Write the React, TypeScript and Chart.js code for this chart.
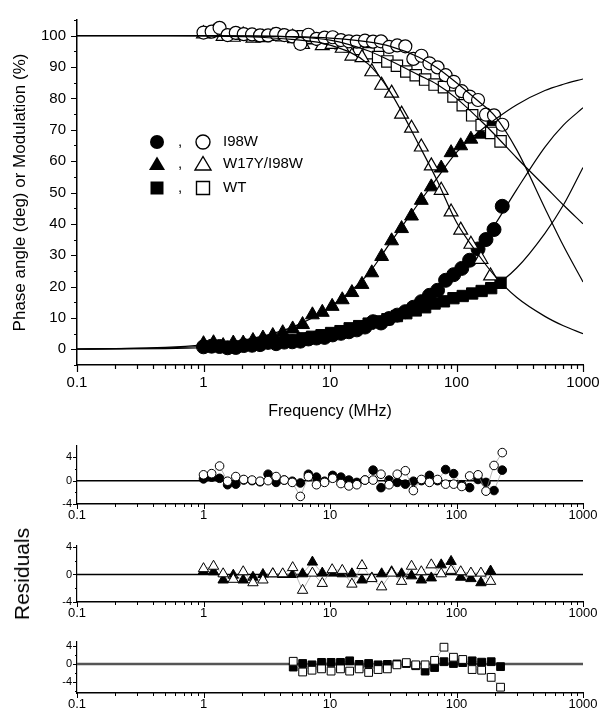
import React, { useEffect, useRef } from "react";
import { Chart, registerables } from "chart.js";
Chart.register(...registerables);

const FONT = "'Liberation Sans', Arial, Helvetica, sans-serif";

// ---------- tick labels ----------
const xMajor = [0.1, 1, 10, 100, 1000];
const xTickLabels = ["0.1", "1", "10", "100", "1000"];
const mainYMajor = [0, 10, 20, 30, 40, 50, 60, 70, 80, 90, 100];
const mainYMinor = [-5, 5, 15, 25, 35, 45, 55, 65, 75, 85, 95, 105];
const resYMajor = [-4, 0, 4];
const resYLabels = ["-4", "0", "4"];

// ---------- legend ----------
const legendNames = ["I98W", "W17Y/I98W", "WT"];
const legendShapes = ["circle", "triangle", "rect"];
const residualsTitle = "Residuals";

// ---------- I98W (circles) ----------
const i98wFreq = [1.0, 1.16, 1.34, 1.55, 1.8, 2.08, 2.42, 2.8, 3.24, 3.75, 4.35, 5.03, 5.83, 6.75, 7.82, 9.06, 10.5, 12.2, 14.1, 16.3, 18.9, 21.9, 25.3, 29.3, 34.0, 39.4, 45.6, 52.8, 61.1, 70.8, 82.0, 95.0, 110, 127, 148, 171, 198, 230];
const i98wPhase = [0.8, 1.0, 0.9, 0.5, 0.6, 1.2, 1.3, 1.5, 2.2, 1.8, 2.3, 2.4, 2.6, 3.3, 3.6, 3.8, 4.6, 5.1, 5.6, 6.2, 7.1, 8.8, 8.4, 9.8, 10.9, 12.0, 13.4, 15.2, 17.2, 18.8, 22.0, 23.8, 25.8, 28.4, 32.0, 35.0, 38.2, 45.6];
const i98wMod = [101, 101.3, 102.5, 100.2, 100.9, 100.5, 100.4, 100.1, 100.1, 100.6, 100.2, 99.8, 97.4, 100.3, 99.0, 99.4, 99.5, 98.6, 98.2, 98.1, 98.4, 98.1, 98.2, 96.4, 96.9, 96.6, 92.6, 93.6, 91.2, 89.9, 87.4, 85.3, 82.3, 80.6, 79.5, 74.8, 74.6, 71.6];
const i98wResPhase = [0.3, 0.6, 0.4, -0.7, -0.6, 0.1, 0, -0.2, 1.1, -0.3, 0.1, -0.1, -0.4, 1.1, 0.6, -0.1, 0.9, 0.6, 0.1, -0.3, 0.1, 1.8, -1.2, 0.1, -0.3, -0.6, -0.1, 0, 0.9, 0, 1.9, 1.2, -0.7, -1.2, 0.2, -0.3, -1.7, 1.8];
const i98wResMod = [1.0, 1.2, 2.5, -0.1, 0.7, 0.2, 0.1, -0.1, 0, 0.7, 0.1, -0.3, -2.7, 0.7, -0.7, -0.3, 0.4, -0.5, -0.9, -0.7, 0.1, 0.1, 1.1, -0.7, 1.1, 1.7, -1.7, 0.2, -0.3, 0.2, -0.6, -0.6, -1.0, 0.8, 1.0, -1.8, 2.6, 4.8];

// ---------- W17Y/I98W (triangles) ----------
const w17Freq = [1.0, 1.2, 1.43, 1.72, 2.06, 2.46, 2.95, 3.53, 4.23, 5.07, 6.07, 7.26, 8.69, 10.4, 12.5, 14.9, 17.9, 21.4, 25.6, 30.7, 36.8, 44.1, 52.7, 63.2, 75.7, 90.6, 108, 130, 156, 186];
const w17Phase = [1.8, 2.1, 1.2, 2.0, 2.0, 2.8, 3.6, 4.4, 5.3, 6.5, 7.9, 11.0, 11.8, 13.7, 15.8, 18.1, 20.7, 24.4, 29.6, 34.6, 38.5, 42.5, 47.5, 51.8, 57.8, 62.7, 64.9, 67.0, 68.6, 72.6];
const w17Mod = [100.6, 101, 99.8, 99.5, 100.2, 99.2, 99.4, 99.8, 99.6, 99.5, 97.2, 98.8, 96.8, 97.2, 96.0, 93.5, 93.0, 88.5, 84.2, 81.7, 75.0, 70.5, 64.5, 58.5, 50.7, 43.8, 38.0, 33.5, 28.7, 23.4];
const w17ResPhase = [0.5, 0.4, -0.8, -0.1, -0.8, -0.4, 0, 0.1, 0, 0, 0.1, 1.8, 0.2, 0.2, 0.1, 0.1, -0.8, -0.5, 0.1, 0.4, 0.1, -0.2, -0.8, -0.5, 1.4, 1.9, -0.4, -0.6, -1.2, 0.5];
const w17ResMod = [0.85, 1.2, 0.1, -0.7, 0.4, -1.2, -0.8, 0.1, 0.1, 1.0, -2.3, 0.2, -1.3, 0.7, 0.6, -1.4, 1.3, -0.6, -1.8, 0.2, -1.0, 1.2, 0.4, 1.4, 0.1, 0.6, 0.4, 0.2, 0.2, -1.0];

// ---------- WT (squares) ----------
const wtFreq = [5.12, 6.08, 7.21, 8.57, 10.2, 12.1, 14.3, 17.0, 20.2, 24.0, 28.4, 33.8, 40.1, 47.6, 56.5, 67.1, 79.6, 94.6, 112, 133, 158, 188, 223];
const wtPhase = [3.0, 3.5, 4.0, 4.5, 5.2, 5.8, 6.7, 7.4, 8.2, 8.9, 9.6, 10.6, 11.5, 12.4, 13.4, 14.6, 15.3, 16.3, 17.0, 17.8, 18.6, 19.5, 21.2];
const wtMod = [99.6, 99.8, 99.2, 98.7, 98.4, 97.6, 96.6, 95.8, 94.4, 93.2, 91.8, 90.4, 88.6, 87.4, 86.0, 84.4, 83.6, 80.6, 77.8, 74.6, 71.5, 69.0, 66.3];
const wtResPhase = [-0.7, 0.1, -0.2, 0.35, 0.35, 0.35, 0.7, -0.1, 0.1, -0.2, -0.1, 0, 0.1, -0.4, -1.6, -0.8, 0.5, 0.1, 0.3, 0.7, 0.4, 0.5, -0.6];
const wtResMod = [0.6, -1.8, -1.4, -1.1, -1.6, -1.1, -1.6, -1.1, -1.9, -1.25, -1.1, -0.2, 0.3, -0.2, -0.2, 0.8, 3.75, 1.5, 1.0, -1.25, -1.4, -3.0, -5.2];

// ---------- fitted curves ----------
const fitFreq = [0.1, 0.2, 0.5, 1, 2, 5, 10, 20, 30, 50, 70, 100, 150, 200, 300, 500, 700, 1000];
const fitI98WPhase = [0.05, 0.1, 0.25, 0.5, 1.0, 2.3, 4.3, 7.8, 10.4, 15.0, 19.0, 24.3, 32.3, 39.6, 51.0, 64.5, 71.5, 77.0];
const fitI98WMod = [100, 100, 100, 100, 99.95, 99.7, 99.2, 98.0, 96.6, 93.2, 89.8, 85.0, 79.0, 74.5, 63.5, 45.0, 33.0, 21.5];
const fitW17Phase = [0.1, 0.2, 0.6, 1.4, 2.8, 7.0, 13.5, 24.0, 34.0, 46.5, 54.5, 62.8, 69.3, 73.2, 78.0, 82.5, 84.5, 86.2];
const fitW17Mod = [100, 100, 100, 99.9, 99.7, 98.8, 97.0, 91.0, 82.0, 65.5, 54.0, 40.5, 30.0, 23.5, 16.5, 10.5, 7.5, 5.0];
const fitWTPhase = [0.1, 0.2, 0.5, 0.9, 1.6, 3.1, 5.1, 8.1, 10.0, 12.9, 14.7, 16.5, 18.5, 20.3, 26.0, 37.0, 46.0, 58.0];
const fitWTMod = [100, 100, 100, 100, 99.9, 99.6, 98.6, 95.2, 92.0, 87.5, 84.5, 80.0, 73.5, 68.5, 61.0, 52.0, 46.0, 40.0];

const zeroLineX = [0.1, 1000];
const zeroLineY = [0, 0];

// ---------- helpers ----------
const pts = (xs: number[], ys: number[]) => xs.map((x, i) => ({ x, y: ys[i] }));

function minorLogTicks(): number[] {
  const out: number[] = [];
  for (const d of [0.1, 1, 10, 100]) for (let m = 2; m <= 9; m++) out.push(+(d * m).toPrecision(3));
  return out;
}

const ticksPlugin = {
  id: "originTicks",
  afterDraw(chart: any, _args: any, opts: any) {
    const { ctx } = chart;
    const xs = chart.scales.x;
    const ys = chart.scales.y;
    const ca = chart.chartArea;
    ctx.save();
    ctx.strokeStyle = "#000";
    ctx.lineWidth = opts.lw;
    ctx.beginPath();
    const yb = ca.bottom;
    for (const v of xMajor) {
      const p = Math.round(xs.getPixelForValue(v)) + 0.5;
      ctx.moveTo(p, yb);
      ctx.lineTo(p, yb + opts.xMajorLen);
    }
    for (const v of minorLogTicks()) {
      const p = Math.round(xs.getPixelForValue(v)) + 0.5;
      ctx.moveTo(p, yb);
      ctx.lineTo(p, yb + opts.xMinorLen);
    }
    const xl = ca.left;
    for (const v of opts.yMajor) {
      const p = Math.round(ys.getPixelForValue(v)) + 0.5;
      ctx.moveTo(xl, p);
      ctx.lineTo(xl - opts.yMajorLen, p);
    }
    for (const v of opts.yMinor) {
      if (v < ys.min || v > ys.max) continue;
      const p = Math.round(ys.getPixelForValue(v)) + 0.5;
      ctx.moveTo(xl, p);
      ctx.lineTo(xl - opts.yMinorLen, p);
    }
    ctx.stroke();
    ctx.restore();
  },
};

function drawShape(ctx: CanvasRenderingContext2D, shape: string, x: number, y: number, filled: boolean) {
  ctx.beginPath();
  if (shape === "circle") {
    ctx.arc(x, y, 7, 0, Math.PI * 2);
  } else if (shape === "triangle") {
    ctx.moveTo(x, y - 7.5);
    ctx.lineTo(x + 8, y + 6);
    ctx.lineTo(x - 8, y + 6);
    ctx.closePath();
  } else {
    ctx.rect(x - 6.5, y - 6.5, 13, 13);
  }
  if (filled) {
    ctx.fillStyle = "#000";
    ctx.fill();
  } else {
    ctx.fillStyle = "#fff";
    ctx.fill();
    ctx.lineWidth = 1.4;
    ctx.strokeStyle = "#000";
    ctx.stroke();
  }
}

const legendPlugin = {
  id: "symbolLegend",
  afterDraw(chart: any) {
    const ctx: CanvasRenderingContext2D = chart.ctx;
    const rowsY = [142, 164, 188];
    ctx.save();
    legendNames.forEach((name, i) => {
      const y = rowsY[i];
      drawShape(ctx, legendShapes[i], 157, y, true);
      drawShape(ctx, legendShapes[i], 203, y, false);
      ctx.fillStyle = "#000";
      ctx.font = `15px ${FONT}`;
      ctx.textBaseline = "middle";
      ctx.textAlign = "left";
      ctx.fillText(",", 178, y);
      ctx.fillText(name, 223, y);
    });
    ctx.restore();
  },
};

const fitDs = (ys: number[]) => ({
  data: pts(fitFreq, ys),
  showLine: true,
  borderColor: "#000",
  borderWidth: 1.2,
  pointRadius: 0,
  cubicInterpolationMode: "monotone" as const,
  fill: false,
});

const markDs = (xs: number[], ys: number[], style: string, filled: boolean, r: number) => ({
  data: pts(xs, ys),
  showLine: false,
  pointStyle: style,
  pointRadius: r,
  pointBackgroundColor: filled ? "#000" : "#fff",
  pointBorderColor: "#000",
  pointBorderWidth: filled ? 1 : 1.2,
  backgroundColor: filled ? "#000" : "#fff",
  borderColor: "#000",
});

const resDs = (xs: number[], ys: number[], style: string, filled: boolean, r: number) => ({
  data: pts(xs, ys),
  showLine: true,
  borderColor: "#9a9a9a",
  borderWidth: 0.7,
  tension: 0,
  pointStyle: style,
  pointRadius: r,
  pointBackgroundColor: filled ? "#000" : "#fff",
  pointBorderColor: "#000",
  pointBorderWidth: 1,
  backgroundColor: filled ? "#000" : "#fff",
});

function xScale(fontSize: number, pad: number, lineHeight: number, height: number, title?: string) {
  return {
    type: "logarithmic",
    min: 0.1,
    max: 1000,
    afterBuildTicks: (s: any) => {
      s.ticks = xMajor.map((v) => ({ value: v }));
    },
    afterFit: (s: any) => {
      s.height = height;
    },
    ticks: {
      callback: (v: any) => {
        const i = xMajor.indexOf(Number(v));
        return i >= 0 ? xTickLabels[i] : "";
      },
      font: { family: FONT, size: fontSize, lineHeight },
      color: "#000",
      padding: pad,
      maxRotation: 0,
      autoSkip: false,
    },
    grid: { display: false, drawTicks: false },
    border: { display: true, color: "#000", width: 1.5 },
    title: title
      ? { display: true, text: title, font: { family: FONT, size: 16 }, color: "#000", padding: 0 }
      : { display: false },
  };
}

function mainConfig(): any {
  return {
    type: "line",
    data: {
      datasets: [
        fitDs(fitI98WPhase),
        fitDs(fitI98WMod),
        fitDs(fitW17Phase),
        fitDs(fitW17Mod),
        fitDs(fitWTPhase),
        fitDs(fitWTMod),
        markDs(i98wFreq, i98wMod, "circle", false, 6.5),
        markDs(w17Freq, w17Mod, "triangle", false, 8),
        markDs(wtFreq, wtMod, "rect", false, 8),
        markDs(w17Freq, w17Phase, "triangle", true, 8),
        markDs(i98wFreq, i98wPhase, "circle", true, 7),
        markDs(wtFreq, wtPhase, "rect", true, 8),
      ],
    },
    options: {
      animation: false,
      responsive: false,
      devicePixelRatio: 1,
      layout: { padding: { left: 0, top: 11, right: 19, bottom: 0 } },
      plugins: {
        legend: { display: false },
        tooltip: { enabled: false },
        originTicks: { lw: 1.2, xMajorLen: 7, xMinorLen: 4, yMajor: mainYMajor, yMinor: mainYMinor, yMajorLen: 6, yMinorLen: 3 },
      },
      scales: {
        x: xScale(15, 1, 2.2, 56, "Frequency (MHz)"),
        y: {
          type: "linear",
          min: -5,
          max: 105,
          afterBuildTicks: (s: any) => {
            s.ticks = mainYMajor.map((v) => ({ value: v }));
          },
          afterFit: (s: any) => {
            s.width = 77;
          },
          ticks: { font: { family: FONT, size: 15 }, color: "#000", padding: 11 },
          grid: { display: false, drawTicks: false },
          border: { display: true, color: "#000", width: 1.5 },
          title: {
            display: true,
            text: "Phase angle (deg) or Modulation (%)",
            font: { family: FONT, size: 17 },
            color: "#000",
            padding: { top: 10, bottom: 0 },
          },
        },
      },
    },
    plugins: [ticksPlugin, legendPlugin],
  };
}

function resConfig(
  filledXs: number[], filledYs: number[], openXs: number[], openYs: number[],
  style: string, r: number, yMin: number, yMax: number, zeroColor: string, zeroWidth: number,
  yMinor: number[]
): any {
  return {
    type: "line",
    data: {
      datasets: [
        resDs(openXs, openYs, style, false, r),
        resDs(filledXs, filledYs, style, true, r),
        {
          data: pts(zeroLineX, zeroLineY),
          showLine: true,
          borderColor: zeroColor,
          borderWidth: zeroWidth,
          pointRadius: 0,
          fill: false,
        },
      ],
    },
    options: {
      animation: false,
      responsive: false,
      devicePixelRatio: 1,
      layout: { padding: { left: 0, top: 10, right: 19, bottom: 0 } },
      plugins: {
        legend: { display: false },
        tooltip: { enabled: false },
        originTicks: { lw: 1, xMajorLen: 5, xMinorLen: 3, yMajor: resYMajor, yMinor, yMajorLen: 4, yMinorLen: 2 },
      },
      scales: {
        x: xScale(13, 4, 1.2, 20),
        y: {
          type: "linear",
          min: yMin,
          max: yMax,
          afterBuildTicks: (s: any) => {
            s.ticks = resYMajor.map((v) => ({ value: v }));
          },
          afterFit: (s: any) => {
            s.width = 77;
          },
          ticks: {
            font: { family: FONT, size: 11 },
            color: "#000",
            padding: 5,
            callback: (v: any) => {
              const i = resYMajor.indexOf(Number(v));
              return i >= 0 ? resYLabels[i] : "";
            },
          },
          grid: { display: false, drawTicks: false },
          border: { display: true, color: "#000", width: 1.2 },
          title: { display: false },
        },
      },
    },
    plugins: [ticksPlugin],
  };
}

export default function App() {
  const mainRef = useRef<HTMLCanvasElement>(null);
  const r1 = useRef<HTMLCanvasElement>(null);
  const r2 = useRef<HTMLCanvasElement>(null);
  const r3 = useRef<HTMLCanvasElement>(null);

  useEffect(() => {
    const charts: Chart[] = [];
    charts.push(new Chart(mainRef.current!, mainConfig()));
    charts.push(
      new Chart(
        r1.current!,
        resConfig(i98wFreq, i98wResPhase, i98wFreq, i98wResMod, "circle", 4.3, -4, 6, "#000", 1.5, [-2, 2])
      )
    );
    charts.push(
      new Chart(
        r2.current!,
        resConfig(w17Freq, w17ResPhase, w17Freq, w17ResMod, "triangle", 6, -4, 4.2, "#000", 1.5, [-2, 2])
      )
    );
    charts.push(
      new Chart(
        r3.current!,
        resConfig(wtFreq, wtResPhase, wtFreq, wtResMod, "rect", 5.5, -6.5, 5, "#555", 2.5, [-6, -2, 2])
      )
    );
    return () => charts.forEach((c) => c.destroy());
  }, []);

  const cv = (top: number, h: number): React.CSSProperties => ({
    position: "absolute",
    left: 0,
    top,
    width: 602,
    height: h,
  });

  return (
    <div style={{ position: "absolute", left: 0, top: 0, width: 602, height: 713, background: "#fff", overflow: "hidden" }}>
      <canvas ref={mainRef} width={602} height={421} style={cv(0, 421)} />
      <canvas ref={r1} width={602} height={90} style={cv(434, 90)} />
      <canvas ref={r2} width={602} height={88} style={cv(534, 88)} />
      <canvas ref={r3} width={602} height={83} style={cv(630, 83)} />
      <div style={{ position: "absolute", left: 22, top: 574, width: 0, height: 0 }}>
        <div
          style={{
            position: "absolute",
            left: 0,
            top: 0,
            transform: "translate(-50%, -50%) rotate(-90deg)",
            fontFamily: FONT,
            fontSize: 21,
            lineHeight: "24px",
            whiteSpace: "nowrap",
            color: "#000",
          }}
        >
          {residualsTitle}
        </div>
      </div>
    </div>
  );
}
